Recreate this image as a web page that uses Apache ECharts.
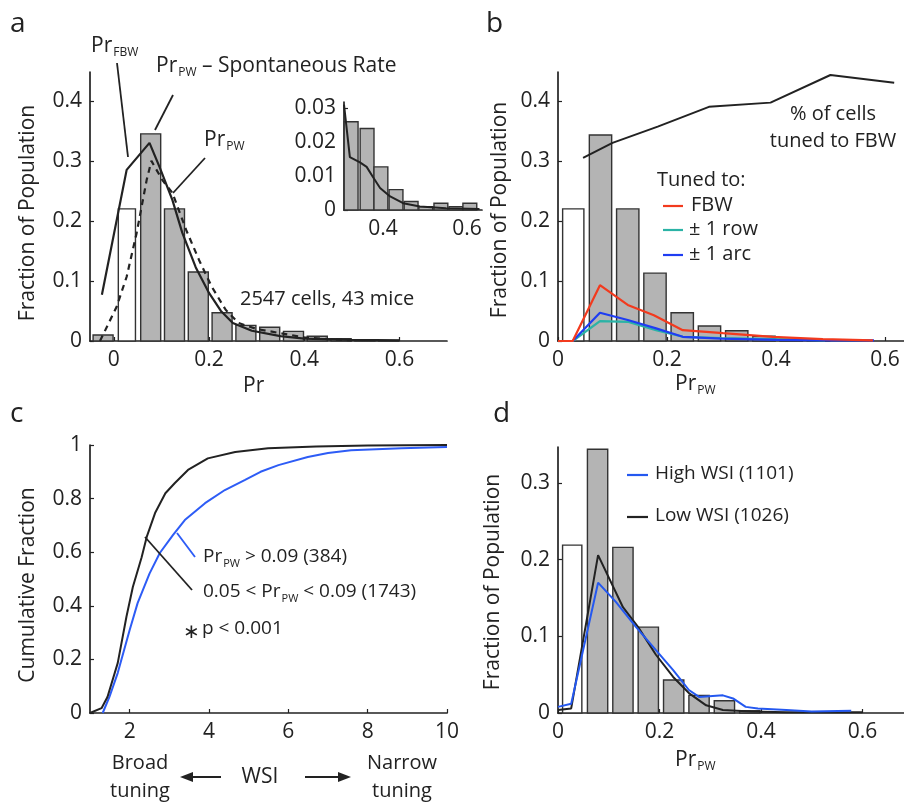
<!DOCTYPE html>
<html><head><meta charset="utf-8">
<script src="https://cdn.jsdelivr.net/npm/echarts@6/dist/echarts.min.js"></script>
<style>html,body{margin:0;padding:0;background:#fff}#c{width:904px;height:803px}</style>
</head><body><div id="c"></div>
<script>
// ---------- Panel a ----------
var aFilledBins = [-0.0225, 0.0775, 0.1275, 0.1775, 0.2275, 0.2775, 0.3275, 0.3775, 0.4275, 0.4775, 0.5275, 0.5775];
var aFilledVals = [0.010, 0.345, 0.220, 0.115, 0.047, 0.026, 0.023, 0.016, 0.008, 0.004, 0.002, 0.001];
var aOpenBins = [0.0275];
var aOpenVals = [0.220];
var aFbwX = [-0.025, 0.027, 0.075, 0.096, 0.123, 0.144, 0.172, 0.2, 0.225, 0.25, 0.29, 0.35, 0.4, 0.5, 0.6];
var aFbwY = [0.077, 0.285, 0.33, 0.29, 0.235, 0.18, 0.123, 0.08, 0.05, 0.03, 0.017, 0.008, 0.004, 0.002, 0.001];
var aPwX = [-0.029, 0.006, 0.027, 0.048, 0.069, 0.079, 0.102, 0.123, 0.152, 0.179, 0.206, 0.235, 0.262, 0.3, 0.35, 0.4, 0.45, 0.5];
var aPwY = [0, 0.057, 0.107, 0.18, 0.268, 0.3, 0.268, 0.247, 0.185, 0.135, 0.09, 0.052, 0.03, 0.02, 0.013, 0.006, 0.003, 0.001];
var aXTicks = [0, 0.2, 0.4, 0.6];
var aYTicks = [0, 0.1, 0.2, 0.3, 0.4];
// inset
var inBins = [0.324, 0.362, 0.395, 0.431, 0.467, 0.502, 0.538, 0.574, 0.607];
var inVals = [0.026, 0.024, 0.0127, 0.006, 0.0025, 0.001, 0.002, 0.001, 0.002];
var inLineX = [0.307, 0.321, 0.345, 0.361, 0.376, 0.393, 0.417, 0.448, 0.488, 0.55, 0.63];
var inLineY = [0.031, 0.0156, 0.014, 0.0127, 0.0097, 0.0065, 0.004, 0.002, 0.001, 0.0005, 0.0003];
var inXTicks = [0.4, 0.6];
var inYTicks = [0, 0.01, 0.02, 0.03];
// ---------- Panel b ----------
var bFilledBins = [0.078, 0.128, 0.178, 0.228, 0.278, 0.328, 0.378, 0.428, 0.478];
var bFilledVals = [0.343, 0.220, 0.113, 0.047, 0.025, 0.017, 0.008, 0.003, 0.001];
var bOpenBins = [0.028];
var bOpenVals = [0.220];
var bPctX = [0.046, 0.1, 0.183, 0.277, 0.39, 0.5, 0.617];
var bPctY = [0.305, 0.33, 0.357, 0.39, 0.397, 0.443, 0.43];
var bFbwX = [0, 0.027, 0.077, 0.128, 0.176, 0.229, 0.303, 0.394, 0.486, 0.578];
var bFbwY = [0, 0, 0.093, 0.06, 0.043, 0.018, 0.013, 0.007, 0.003, 0.001];
var bRowX = [0, 0.027, 0.077, 0.128, 0.18, 0.229, 0.3, 0.4, 0.49];
var bRowY = [0, 0, 0.033, 0.032, 0.018, 0.007, 0.005, 0.003, 0.001];
var bArcX = [0, 0.027, 0.077, 0.128, 0.18, 0.229, 0.3, 0.4, 0.5, 0.58];
var bArcY = [0, 0, 0.047, 0.035, 0.021, 0.007, 0.004, 0.002, 0.001, 0.001];
var bXTicks = [0, 0.2, 0.4, 0.6];
var bYTicks = [0, 0.1, 0.2, 0.3, 0.4];
// ---------- Panel c ----------
var cLowX = [1.0, 1.04, 1.29, 1.44, 1.7, 1.92, 2.08, 2.3, 2.43, 2.64, 2.9, 3.14, 3.47, 3.97, 4.66, 5.49, 6.7, 8.0, 10];
var cLowY = [0, 0.002, 0.018, 0.06, 0.187, 0.36, 0.47, 0.58, 0.657, 0.746, 0.82, 0.858, 0.907, 0.95, 0.974, 0.988, 0.994, 0.998, 1.0];
var cHighX = [1.32, 1.49, 1.7, 2.0, 2.2, 2.5, 2.76, 3.09, 3.39, 3.9, 4.4, 4.91, 5.3, 5.75, 6.49, 7.0, 7.58, 8.85, 10];
var cHighY = [0, 0.06, 0.15, 0.31, 0.41, 0.52, 0.597, 0.664, 0.72, 0.783, 0.832, 0.87, 0.9, 0.925, 0.955, 0.97, 0.98, 0.988, 0.993];
var cXTicks = [2, 4, 6, 8, 10];
var cYTicks = [0, 0.2, 0.4, 0.6, 0.8, 1];
// ---------- Panel d ----------
var dFilledBins = [0.078, 0.128, 0.178, 0.228, 0.278, 0.328, 0.378];
var dFilledVals = [0.344, 0.216, 0.112, 0.043, 0.023, 0.016, 0.003];
var dOpenBins = [0.028];
var dOpenVals = [0.219];
var dLowX = [0, 0.026, 0.079, 0.128, 0.158, 0.193, 0.227, 0.258, 0.292, 0.325, 0.38, 0.45, 0.6];
var dLowY = [0.004, 0.006, 0.206, 0.138, 0.112, 0.076, 0.047, 0.026, 0.01, 0.004, 0.002, 0.001, 0.001];
var dHighX = [0, 0.026, 0.079, 0.114, 0.154, 0.193, 0.227, 0.258, 0.278, 0.325, 0.345, 0.37, 0.394, 0.45, 0.5, 0.578];
var dHighY = [0.008, 0.012, 0.17, 0.145, 0.112, 0.082, 0.056, 0.03, 0.021, 0.023, 0.019, 0.008, 0.006, 0.004, 0.002, 0.003];
var dXTicks = [0, 0.2, 0.4, 0.6];
var dYTicks = [0, 0.1, 0.2, 0.3];

var FF = 'Open Sans';
var INK = '#222';
var GREY = '#b4b4b4';
function zip(x, y) { return x.map(function (v, i) { return [v, y[i]]; }); }

function grid(l, t, w, h) { return { left: l, top: t, width: w, height: h, containLabel: false }; }
function xAx(gi, min, max, ticks, fs) {
  return { type: 'value', gridIndex: gi, min: min, max: max, splitLine: { show: false },
    axisLine: { onZero: false, lineStyle: { color: INK, width: 1.7 } },
    axisTick: { inside: true, length: 4, customValues: ticks, lineStyle: { color: INK, width: 1.2 } },
    axisLabel: { customValues: ticks, color: INK, fontSize: fs || 21, fontFamily: FF, margin: 9 } };
}
function yAx(gi, min, max, ticks, fs) {
  return { type: 'value', gridIndex: gi, min: min, max: max, splitLine: { show: false },
    axisLine: { onZero: false, lineStyle: { color: INK, width: 1.7 } },
    axisTick: { inside: true, length: 4, customValues: ticks, lineStyle: { color: INK, width: 1.2 } },
    axisLabel: { customValues: ticks, color: INK, fontSize: fs || 21, fontFamily: FF, margin: 8 } };
}
function bars(ai, bins, vals, w, fill, z) {
  return { type: 'custom', xAxisIndex: ai, yAxisIndex: ai, z: z || 2, clip: false,
    data: zip(bins, vals),
    renderItem: function (params, api) {
      var c = api.value(0), h = api.value(1);
      var p0 = api.coord([c - w / 2, h]);
      var p1 = api.coord([c + w / 2, 0]);
      return { type: 'rect', shape: { x: p0[0], y: p0[1], width: p1[0] - p0[0], height: p1[1] - p0[1] },
        style: { fill: fill, stroke: '#333', lineWidth: 1.4 } };
    } };
}
function line(ai, x, y, color, w, dash) {
  return { type: 'line', xAxisIndex: ai, yAxisIndex: ai, data: zip(x, y), showSymbol: false, symbol: 'none',
    z: 5, clip: false, lineStyle: { color: color, width: w || 2, type: dash || 'solid' } };
}

var RICH = {
  m: { fontSize: 21, lineHeight: 24, fontFamily: FF, fill: INK, color: INK },
  s: { fontSize: 12, padding: [14, 0, 0, 1], fontFamily: FF, color: INK },
  n: { fontSize: 19, lineHeight: 24, fontFamily: FF, color: INK },
  t: { fontSize: 11, padding: [13, 0, 0, 1], fontFamily: FF, color: INK }
};
function txt(x, y, s, opt) {
  opt = opt || {};
  return { type: 'text', x: x, y: y, rotation: opt.rot || 0, z: 100,
    style: { text: s, fill: INK, font: (opt.fs || 21) + 'px "' + FF + '"', textAlign: opt.align || 'left',
      textVerticalAlign: 'middle', rich: RICH } };
}
function seg(x1, y1, x2, y2, color, w) {
  return { type: 'line', z: 100, shape: { x1: x1, y1: y1, x2: x2, y2: y2 }, style: { stroke: color || INK, lineWidth: w || 1.8 } };
}
function tri(x, y, dir) {
  var L = 13, H = 5;
  var pts = dir < 0 ? [[x, y], [x + L, y - H], [x + L, y + H]] : [[x, y], [x - L, y - H], [x - L, y + H]];
  return { type: 'polygon', z: 100, shape: { points: pts }, style: { fill: INK } };
}

var RED = '#f23a1e', TEAL = '#2bb3a6', BLUE = '#1f3df2', CBLUE = '#2d5cf6', DBLUE = '#2458f0';

var option = {
  animation: false,
  backgroundColor: '#fff',
  grid: [grid(90, 72, 357, 269), grid(344, 102, 138, 108), grid(558, 72, 346, 269), grid(90, 445, 357, 268), grid(558, 447, 346, 266)],
  xAxis: [xAx(0, -0.05, 0.7, aXTicks), xAx(1, 0.307, 0.636, inXTicks), xAx(2, 0, 0.635, bXTicks), xAx(3, 1, 10, cXTicks), xAx(4, 0, 0.682, dXTicks)],
  yAxis: [yAx(0, 0, 0.448, aYTicks), yAx(1, 0, 0.0318, inYTicks), yAx(2, 0, 0.448, bYTicks), yAx(3, 0, 1, cYTicks), yAx(4, 0, 0.347, dYTicks)],
  series: [
    bars(0, aFilledBins, aFilledVals, 0.042, GREY), bars(0, aOpenBins, aOpenVals, 0.036, '#fff'),
    line(0, aPwX, aPwY, INK, 2.2, [6, 5]), line(0, aFbwX, aFbwY, INK, 2.2),
    bars(1, inBins, inVals, 0.033, GREY), line(1, inLineX, inLineY, INK, 2),
    bars(2, bFilledBins, bFilledVals, 0.041, GREY), bars(2, bOpenBins, bOpenVals, 0.039, '#fff'),
    line(2, bPctX, bPctY, INK, 2), line(2, bRowX, bRowY, TEAL, 2.2), line(2, bArcX, bArcY, BLUE, 2.2), line(2, bFbwX, bFbwY, RED, 2.2),
    line(3, cHighX, cHighY, CBLUE, 2), line(3, cLowX, cLowY, INK, 2),
    bars(4, dFilledBins, dFilledVals, 0.04, GREY), bars(4, dOpenBins, dOpenVals, 0.038, '#fff'),
    line(4, dLowX, dLowY, INK, 2), line(4, dHighX, dHighY, DBLUE, 2)
  ],
  graphic: [
    // panel letters
    txt(10, 24, 'a', { fs: 28 }), txt(486, 24, 'b', { fs: 28 }), txt(10, 414, 'c', { fs: 28 }), txt(493, 414, 'd', { fs: 28 }),
    // panel a
    txt(28, 213, 'Fraction of Population', { rot: Math.PI / 2, align: 'center' }),
    txt(243, 386, 'Pr'),
    txt(91, 46, '{m|Pr}{s|FBW}'), seg(117, 63, 128, 157),
    txt(156, 66, '{m|Pr}{s|PW}{m| – Spontaneous Rate}'), seg(173, 95, 155, 130),
    txt(204, 140, '{m|Pr}{s|PW}'), seg(205, 158, 173, 193),
    txt(240, 299, '2547 cells, 43 mice', { fs: 20 }),
    // panel b
    txt(500, 210, 'Fraction of Population', { rot: Math.PI / 2, align: 'center' }),
    txt(675, 384, '{m|Pr}{s|PW}'),
    txt(833, 114, '% of cells', { fs: 20, align: 'center' }), txt(833, 141, 'tuned to FBW', { fs: 20, align: 'center' }),
    txt(657, 180, 'Tuned to:', { fs: 20 }),
    seg(663, 206, 683, 206, RED, 2.2), txt(691, 205, 'FBW', { fs: 20 }),
    seg(663, 230, 683, 230, TEAL, 2.2), txt(689, 229, '± 1 row', { fs: 20 }),
    seg(663, 255, 683, 255, BLUE, 2.2), txt(689, 254, '± 1 arc', { fs: 20 }),
    // panel c
    txt(28, 585, 'Cumulative Fraction', { rot: Math.PI / 2, align: 'center' }),
    seg(177, 533, 195, 557, CBLUE, 1.8), txt(203, 557, '{n|Pr}{t|PW}{n| > 0.09 (384)}'),
    seg(145, 537, 192, 590, INK, 1.8), txt(203, 592, '{n|0.05 < Pr}{t|PW}{n| < 0.09 (1743)}'),
    txt(183, 632, '∗', { fs: 20 }), txt(202, 629, 'p < 0.001', { fs: 19 }),
    txt(140, 763, 'Broad', { fs: 20, align: 'center' }), txt(140, 791, 'tuning', { fs: 20, align: 'center' }),
    txt(260, 777, 'WSI', { fs: 21, align: 'center' }),
    seg(191, 777, 221, 777, INK, 2), tri(180, 777, -1),
    seg(305, 777, 340, 777, INK, 2), tri(351, 777, 1),
    txt(402, 763, 'Narrow', { fs: 20, align: 'center' }), txt(402, 791, 'tuning', { fs: 20, align: 'center' }),
    // panel d
    txt(493, 582, 'Fraction of Population', { rot: Math.PI / 2, align: 'center' }),
    txt(675, 760, '{m|Pr}{s|PW}'),
    seg(627, 475, 648, 475, DBLUE, 2.2), txt(655, 474, 'High WSI (1101)', { fs: 19 }),
    seg(627, 517, 648, 517, INK, 2.2), txt(655, 516, 'Low WSI (1026)', { fs: 19 })
  ]
};
var chart = echarts.init(document.getElementById('c'), null, { renderer: 'canvas' });
chart.setOption(option);
</script></body></html>
